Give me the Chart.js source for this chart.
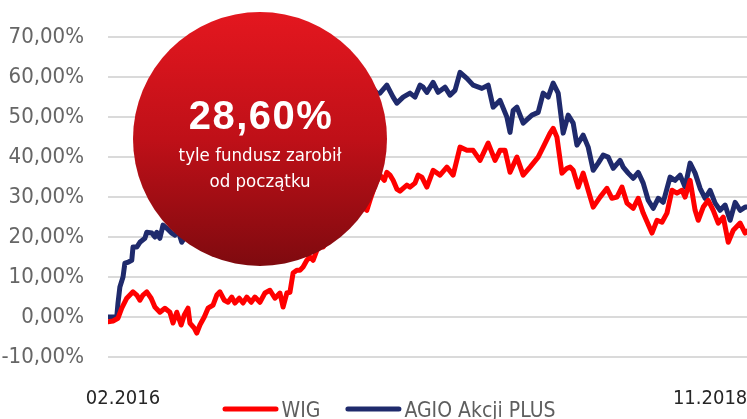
<!DOCTYPE html>
<html>
<head>
<meta charset="utf-8">
<script src="https://cdn.jsdelivr.net/npm/chart.js@4/dist/chart.umd.min.js"></script>
<style>
  html, body { margin: 0; padding: 0; background: #ffffff; }
  #wrap { width: 747px; height: 419px; overflow: hidden; }
</style>
</head>
<body>
<div id="wrap"><canvas id="c" width="747" height="419"></canvas></div>
<script>
// ---- data (days since start of period, % return) ----
const seriesNames = ['WIG', 'AGIO Akcji PLUS'];

const wigDays = [0,8,16,22,30,40,46,51,56,62,69,75,83,91,99,104,110,117,122,128,131,138,142,147,154,160,168,174,179,186,192,198,203,210,216,222,229,235,243,251,259,267,275,280,286,291,296,302,307,312,318,323,328,334,339,344,355,366,379,390,400,408,414,419,427,435,442,446,451,456,462,467,472,478,483,491,496,502,510,520,531,542,552,563,574,584,595,608,619,627,635,643,654,664,675,688,696,707,712,718,726,734,739,744,752,760,768,776,787,798,806,814,822,830,840,848,856,870,878,886,894,902,910,918,923,931,939,944,952,960,968,976,984,992,1000,1011,1019,1022];
const wigValues = [-1.2,-1.0,-0.3,2.2,4.7,6.3,5.5,4.2,5.5,6.3,4.7,2.5,1.2,2.2,1.2,-1.5,1.2,-2.0,0.5,2.2,-1.5,-2.8,-4.0,-2.0,0.0,2.2,3.0,5.5,6.3,4.2,3.7,5.0,3.5,4.7,3.5,5.0,3.7,5.0,3.7,6.0,6.7,4.7,6.0,2.5,6.0,6.2,11.0,11.7,11.7,12.5,14.2,15.0,14.2,16.7,17.5,17.5,20.0,21.5,23.0,25.0,27.0,27.5,26.7,29.2,33.0,35.5,34.2,36.2,35.5,34.2,32.0,31.5,32.2,33.0,32.5,33.5,35.5,35.0,32.5,36.7,35.5,37.5,35.5,42.5,41.7,41.7,39.2,43.5,39.2,41.7,41.7,36.2,40.0,35.5,37.5,40.0,42.5,46.0,47.2,45.0,36.0,37.2,37.5,36.7,32.5,36.0,31.7,27.5,30.0,32.2,29.7,30.0,32.5,28.5,27.2,29.7,26.0,21.0,24.2,23.7,26.0,31.7,31.0,31.7,30.0,34.2,26.7,24.2,27.5,29.2,26.7,23.5,25.0,18.7,21.7,23.5,21.0,21.5];

const agioDays = [0,14,16,19,24,27,32,38,40,46,51,59,62,70,75,78,83,88,94,102,107,112,118,131,147,171,195,219,243,267,291,315,339,363,387,411,422,430,435,446,456,462,472,483,491,499,504,510,520,528,539,547,555,563,574,584,598,608,616,627,638,643,648,654,664,678,688,696,704,712,720,728,736,744,750,760,768,776,784,792,800,808,819,824,832,840,848,856,864,872,880,888,899,907,915,923,931,939,947,955,963,971,979,987,995,1003,1011,1019,1022];
const agioValues = [0,0,3.5,7.5,10.0,13.5,13.7,14.2,17.5,17.5,18.7,19.7,21.2,21.0,20.0,21.2,19.7,23.0,22.2,21.0,20.5,21.7,18.7,22,25,27,30,33,36,40,44,47,50,53,55,56.5,57.5,56.0,56.0,58.0,55.0,53.5,55.0,56.0,55.0,58.0,57.5,56.2,58.7,56.2,57.5,55.5,56.7,61.2,59.7,58.0,57.2,58.0,52.5,54.2,50.0,46.2,51.7,52.5,48.5,50.5,51.2,56.0,55.0,58.5,56.0,46.0,50.5,48.5,43.0,45.5,42.5,36.7,38.5,40.5,40.0,37.2,39.2,37.5,36.0,34.7,36.2,33.5,29.2,27.2,29.7,28.7,35.0,34.2,35.5,32.5,38.5,36.0,32.2,29.7,31.7,28.5,26.7,28.0,24.2,28.7,26.7,27.5,27.5];

const xTickDays = [24, 963];
const xTickLabels = ['02.2016', '11.2018'];
const yTicks = [-10, 0, 10, 20, 30, 40, 50, 60, 70];

const badgeValue = '28,60%';
const badgeLine1 = 'tyle fundusz zarobił';
const badgeLine2 = 'od początku';

// ---- styles ----
const FONT = "'DejaVu Sans Condensed', 'Liberation Sans', sans-serif";
const RED = '#ff0000';
const NAVY = '#1f2a6c';

function toXY(days, vals) { return days.map((d, i) => ({ x: d, y: vals[i] })); }

const badgePlugin = {
  id: 'badge',
  afterDatasetsDraw(chart) {
    const ctx = chart.ctx;
    const cx = 260, cy = 139, r = 127;
    ctx.save();
    const g = ctx.createLinearGradient(0, cy - r, 0, cy + r);
    g.addColorStop(0, '#e4171f');
    g.addColorStop(0.5, '#bf1018');
    g.addColorStop(1, '#7f0a0f');
    ctx.beginPath();
    ctx.arc(cx, cy, r, 0, Math.PI * 2);
    ctx.fillStyle = g;
    ctx.fill();
    ctx.fillStyle = '#ffffff';
    ctx.textAlign = 'center';
    ctx.textBaseline = 'middle';
    ctx.font = "bold 40px 'Liberation Sans', sans-serif";
    try { ctx.letterSpacing = '1.5px'; } catch (e) {}
    ctx.fillText(badgeValue, cx + 1, 118);
    try { ctx.letterSpacing = '0px'; } catch (e) {}
    ctx.font = "18.5px " + FONT;
    ctx.fillText(badgeLine1, cx, 156);
    ctx.fillText(badgeLine2, cx, 182);
    ctx.restore();
  }
};

// legend drawn from the chart's own datasets
const legendPlugin = {
  id: 'lineLegend',
  afterDraw(chart) {
    const ctx = chart.ctx;
    const lineLen = 56, gapText = 3, gapItems = 25, centerX = 389, baseY = 417, lineY = 409;
    ctx.save();
    ctx.font = "21px " + FONT;
    const items = chart.data.datasets.map(ds => ({ label: ds.label, color: ds.borderColor, w: ctx.measureText(ds.label).width }));
    const total = items.reduce((s, it) => s + lineLen + gapText + it.w, 0) + gapItems * (items.length - 1);
    let x = centerX - total / 2;
    items.forEach(it => {
      ctx.strokeStyle = it.color;
      ctx.lineWidth = 5;
      ctx.lineCap = 'round';
      ctx.beginPath();
      ctx.moveTo(x + 2.5, lineY);
      ctx.lineTo(x + lineLen - 2.5, lineY);
      ctx.stroke();
      ctx.fillStyle = '#5e5e5e';
      ctx.textAlign = 'left';
      ctx.textBaseline = 'alphabetic';
      ctx.fillText(it.label, x + lineLen + gapText, baseY);
      x += lineLen + gapText + it.w + gapItems;
    });
    ctx.restore();
  }
};

new Chart(document.getElementById('c'), {
  type: 'line',
  data: {
    datasets: [
      { label: seriesNames[0], data: toXY(wigDays, wigValues), borderColor: RED, backgroundColor: RED },
      { label: seriesNames[1], data: toXY(agioDays, agioValues), borderColor: NAVY, backgroundColor: NAVY }
    ]
  },
  options: {
    responsive: false,
    animation: false,
    devicePixelRatio: 1,
    layout: { padding: { top: 37, left: 0, right: 0, bottom: 0 } },
    elements: {
      point: { radius: 0, hoverRadius: 0 },
      line: { borderWidth: 5, tension: 0, borderJoinStyle: 'round', borderCapStyle: 'round' }
    },
    plugins: {
      tooltip: { enabled: false },
      legend: { display: false }
    },
    scales: {
      x: {
        type: 'linear', min: 0, max: 1022,
        grid: { display: false, drawTicks: false },
        border: { display: false },
        afterBuildTicks(scale) { scale.ticks = xTickDays.map(v => ({ value: v })); },
        afterFit(scale) { scale.height = 62; scale.paddingLeft = 0; scale.paddingRight = 0; },
        ticks: {
          autoSkip: false, maxRotation: 0, padding: 30,
          color: '#262626',
          font: { family: FONT, size: 20 },
          callback(v) { const i = xTickDays.indexOf(v); return i >= 0 ? xTickLabels[i] : ''; }
        }
      },
      y: {
        min: -10, max: 70,
        afterBuildTicks(scale) { scale.ticks = yTicks.map(v => ({ value: v })); },
        afterFit(scale) { scale.width = 108; },
        grid: { color: '#dadada', lineWidth: 2, drawTicks: false },
        border: { display: false },
        ticks: {
          padding: 24,
          color: '#666666',
          font: { family: FONT, size: 22 },
          callback(v) { return v.toFixed(2).replace('.', ',') + '%'; }
        }
      }
    }
  },
  plugins: [badgePlugin, legendPlugin]
});
</script>
</body>
</html>
